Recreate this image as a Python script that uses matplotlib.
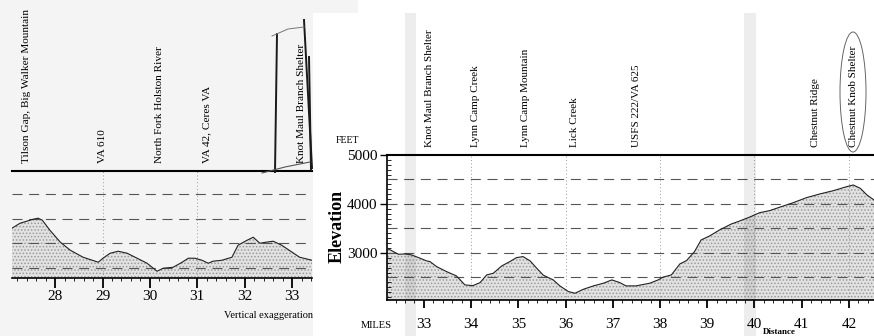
import numpy as np
import matplotlib
matplotlib.use('Agg')
import matplotlib.pyplot as plt
from matplotlib.patches import Rectangle, Ellipse
from matplotlib.lines import Line2D
from matplotlib.ticker import MultipleLocator
import matplotlib.transforms as mtransforms

plt.rcParams['font.family'] = ['Liberation Serif', 'DejaVu Serif']
plt.rcParams['hatch.color'] = '#9a9a9a'
plt.rcParams['hatch.linewidth'] = 0.7

# profile, earlier page (miles, feet)
left_miles = [27.09, 27.26, 27.54, 27.64, 27.73, 27.89, 28.11, 28.32, 28.59, 28.91,
              29.01, 29.16, 29.33, 29.52, 29.73, 29.94, 30.15, 30.28, 30.49, 30.68,
              30.81, 30.95, 31.10, 31.23, 31.33, 31.52, 31.73, 31.86, 32.05, 32.18,
              32.32, 32.45, 32.60, 32.78, 33.00, 33.16, 33.42]
left_feet = [3310, 3411, 3492, 3513, 3472, 3269, 3026, 2863, 2721, 2620,
             2701, 2802, 2843, 2802, 2701, 2599, 2437, 2498, 2518, 2620,
             2701, 2701, 2660, 2599, 2640, 2660, 2721, 2965, 3066, 3127,
             3005, 3026, 3046, 2965, 2823, 2721, 2660]

# profile, next page (miles, feet)
right_miles = [32.22, 32.32, 32.46, 32.60, 32.74, 32.92, 33.06, 33.13, 33.27, 33.48,
               33.69, 33.87, 34.04, 34.19, 34.33, 34.47, 34.65, 34.82, 34.96, 35.10,
               35.25, 35.39, 35.53, 35.74, 35.88, 36.06, 36.20, 36.38, 36.59, 36.80,
               36.98, 37.15, 37.28, 37.49, 37.78, 37.96, 38.06, 38.24, 38.42, 38.56,
               38.73, 38.87, 39.05, 39.26, 39.51, 39.65, 39.89, 40.11, 40.32, 40.53,
               40.82, 41.10, 41.38, 41.67, 41.95, 42.09, 42.24, 42.38, 42.53]
right_feet = [3096, 3047, 2974, 2980, 2960, 2893, 2838, 2824, 2722, 2620,
              2532, 2348, 2334, 2395, 2552, 2586, 2736, 2824, 2905, 2926,
              2838, 2688, 2546, 2450, 2328, 2212, 2178, 2260, 2328, 2382,
              2450, 2395, 2328, 2328, 2382, 2450, 2505, 2552, 2776, 2844,
              3027, 3266, 3348, 3470, 3592, 3640, 3729, 3823, 3864, 3933,
              4027, 4129, 4204, 4272, 4353, 4388, 4320, 4184, 4082]

left_places = ['Tilson Gap, Big Walker Mountain', 'VA 610', 'North Fork Holston River',
               'VA 42, Ceres VA', 'Knot Maul Branch Shelter']
left_place_miles = [27.4, 29.0, 30.2, 31.2, 33.2]

right_places = ['Knot Maul Branch Shelter', 'Lynn Camp Creek', 'Lynn Camp Mountain',
                'Lick Creek', 'USFS 222/VA 625', 'Chestnut Ridge', 'Chestnut Knob Shelter']
right_place_miles = [33.13, 34.1, 35.15, 36.2, 37.5, 41.3, 42.1]

left_ticks = [28, 29, 30, 31, 32, 33]
right_ticks = [33, 34, 35, 36, 37, 38, 39, 40, 41, 42]

W, H = 874, 336
fig = plt.figure(figsize=(W / 100, H / 100), dpi=100)
fig.patch.set_facecolor('white')


def fx(px):
    return px / W


def fy(py):
    return 1 - py / H


# paper backgrounds
fig.patches.append(Rectangle((0, 0), fx(313), 1, transform=fig.transFigure,
                             facecolor='#f4f4f4', edgecolor='none', zorder=-10))
fig.patches.append(Rectangle((fx(313), fy(13)), fx(45), 13 / H, transform=fig.transFigure,
                             facecolor='#f4f4f4', edgecolor='none', zorder=-10))

grid_kw = dict(color='#555555', lw=0.8, linestyle=(0, (9, 6)), zorder=2)
vline_kw = dict(color='#9a9a9a', lw=0.7, linestyle=(0, (1, 2.5)), zorder=2)


def profile(ax, miles, feet):
    ax.fill_between(miles, 0, feet, facecolor='#e2e2e2', edgecolor='#9a9a9a',
                    hatch='.....', linewidth=0, zorder=1)
    ax.plot(miles, feet, color='#222222', lw=0.8, zorder=3)


def place_labels(ax, miles, names, size):
    tr = mtransforms.blended_transform_factory(ax.transData, ax.transAxes)
    for m, name in zip(miles, names):
        ax.annotate(name, (m, 1.0), xycoords=tr, xytext=(0, 6), textcoords='offset points',
                    rotation=90, ha='center', va='bottom', fontsize=size, annotation_clip=False)


# ---- left page fragment
axl = fig.add_axes([fx(12), fy(278), fx(312) - fx(12), fy(171) - fy(278)])
axl.set_facecolor('none')
axl.set_xlim(27.09, 33.42)
axl.set_ylim(2300, 4470)
profile(axl, left_miles, left_feet)
for v in [2500, 3000, 3500, 4000]:
    axl.axhline(v, **grid_kw)
for m in [29, 31]:
    axl.axvline(m, **vline_kw)
for s in ['left', 'right']:
    axl.spines[s].set_visible(False)
axl.spines['top'].set_linewidth(1.5)
axl.spines['bottom'].set_linewidth(1.2)
axl.set_yticks([])
axl.set_xticks(left_ticks)
axl.xaxis.set_minor_locator(MultipleLocator(0.2))
axl.tick_params(axis='x', which='major', direction='out', length=7, width=1.3, pad=1.5, labelsize=11)
axl.tick_params(axis='x', which='minor', direction='out', length=2.5, width=0.6)
place_labels(axl, left_place_miles, left_places, 8.1)
fig.text(fx(313), fy(316), 'Vertical exaggeration', ha='right', va='center', fontsize=7.5)

# ---- right page
axr = fig.add_axes([fx(387), fy(300), 1 - fx(387), fy(155) - fy(300)])
axr.set_facecolor('none')
axr.set_xlim(32.22, 42.53)
axr.set_ylim(2040, 5000)
profile(axr, right_miles, right_feet)
for v in [2500, 3000, 3500, 4000, 4500]:
    axr.axhline(v, **grid_kw)
for m in [34, 36, 38, 40, 42]:
    axr.axvline(m, **vline_kw)
axr.spines['right'].set_visible(False)
axr.spines['top'].set_linewidth(1.5)
axr.spines['left'].set_linewidth(1.2)
axr.spines['bottom'].set_linewidth(1.2)
axr.set_xticks(right_ticks)
axr.xaxis.set_minor_locator(MultipleLocator(0.2))
axr.tick_params(axis='x', which='major', direction='out', length=6, width=1.3, pad=7, labelsize=11)
axr.tick_params(axis='x', which='minor', direction='out', length=2.5, width=0.6)
axr.set_yticks([3000, 4000, 5000])
axr.set_yticklabels(['3000', '4000', '5000'])
axr.yaxis.set_minor_locator(MultipleLocator(100))
axr.tick_params(axis='y', which='major', direction='out', length=5, width=1.0, pad=2, labelsize=11)
axr.tick_params(axis='y', which='minor', direction='in', length=3, width=0.6)
place_labels(axr, right_place_miles, right_places, 8)
fig.text(fx(347), fy(140), 'FEET', ha='center', va='center', fontsize=7)
fig.text(fx(337), fy(226), 'Elevation', ha='center', va='center', rotation=90,
         fontsize=13, fontweight='bold')
fig.text(fx(376), fy(325), 'MILES', ha='center', va='center', fontsize=7.5)
fig.text(fx(779), fy(334), 'Distance', ha='center', va='baseline', fontsize=6.5, fontweight='bold')

# scanner shading
for x0, w in [(405, 11), (744, 12)]:
    fig.patches.append(Rectangle((fx(x0), 0), fx(w), fy(13), transform=fig.transFigure,
                                 facecolor='#000000', alpha=0.07, edgecolor='none', zorder=5))

# pen marks
pen = dict(color='#1a1a1a', lw=1.4, transform=fig.transFigure, zorder=6)
fig.lines.append(Line2D([fx(277), fx(275)], [fy(34), fy(172)], **pen))
fig.lines.append(Line2D([fx(304), fx(312)], [fy(20), fy(168)], **pen))
fig.lines.append(Line2D([fx(309), fx(311)], [fy(57), fy(170)], **pen))
fig.lines.append(Line2D([fx(272), fx(288), fx(304)], [fy(36), fy(29), fy(27)],
                        color='#777777', lw=0.7, transform=fig.transFigure, zorder=6))
fig.lines.append(Line2D([fx(262), fx(285), fx(310)], [fy(173), fy(167), fy(162)],
                        color='#555555', lw=0.8, transform=fig.transFigure, zorder=6))
fig.patches.append(Ellipse((fx(853), fy(92)), fx(26), 120 / H, transform=fig.transFigure,
                           facecolor='none', edgecolor='#666666', lw=0.7, zorder=6))

fig.savefig('out.png', dpi=100)
